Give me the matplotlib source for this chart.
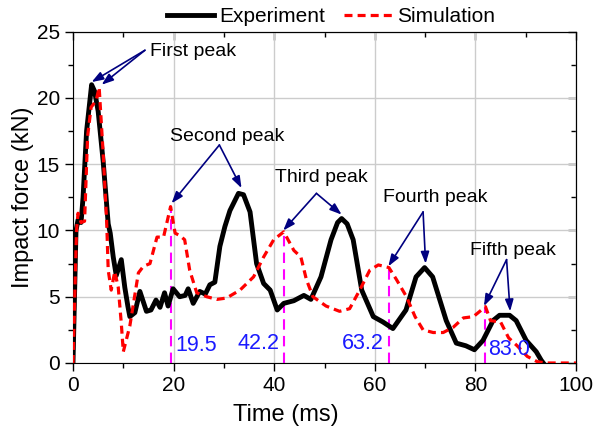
import numpy as np
import matplotlib
matplotlib.use('Agg')
import matplotlib.pyplot as plt
from matplotlib.ticker import MultipleLocator

plt.rcParams['font.family'] = ['Liberation Sans', 'DejaVu Sans']

# experiment curve (time in ms, force in kN)
exp_t = [0, 0.6, 1.0, 1.6, 2.0, 2.7, 3.7, 4.3, 5.0, 6.0,
         7.0, 7.4, 8.0, 8.6, 9.6, 10.3, 10.9, 11.3, 12.3, 13.3,
         14.6, 15.5, 16.5, 17.3, 18.2, 18.9, 19.9, 21.2, 22.3, 22.9,
         23.9, 25.2, 26.3, 27.2, 28.2, 29.2, 30.2, 31.2, 32.9, 33.9,
         35.2, 36.5, 37.9, 39.2, 40.6, 41.9, 43.9, 45.9, 47.3, 49.3,
         51.3, 52.6, 53.4, 54.5, 55.7, 57.4, 59.7, 61.6, 63.6, 66.2,
         68.2, 69.9, 71.5, 74.2, 76.2, 78.1, 79.8, 81.5, 83.5, 84.8,
         86.8, 88.1, 90.1, 92.1, 93.1, 93.5]
exp_f = [0, 10.0, 10.8, 10.6, 12.5, 17.5, 21.0, 20.5, 19.0, 15.2,
         10.5, 9.8, 8.0, 6.6, 7.8, 5.7, 4.3, 3.5, 3.8, 5.4,
         3.9, 4.0, 4.75, 4.2, 5.3, 4.3, 5.6, 5.0, 5.1, 5.6,
         4.5, 5.4, 5.2, 5.9, 6.1, 8.8, 10.3, 11.5, 12.8, 12.7,
         11.4, 7.5, 6.0, 5.5, 4.0, 4.5, 4.7, 5.1, 4.8, 6.5,
         9.3, 10.6, 10.9, 10.5, 9.3, 5.5, 3.5, 3.1, 2.6, 4.0,
         6.5, 7.2, 6.5, 3.2, 1.5, 1.3, 1.0, 1.7, 3.2, 3.6,
         3.6, 3.2, 1.7, 0.85, 0.2, 0.0]

# simulation curve
sim_t = [0, 0.7, 1.0, 1.6, 2.3, 2.9, 3.6, 4.6, 5.2, 6.0,
         6.7, 7.0, 7.6, 8.3, 9.0, 9.6, 10.0, 11.3, 13.0, 14.0,
         15.3, 16.7, 18.0, 19.4, 20.3, 21.3, 22.2, 23.2, 24.6, 26.6,
         28.6, 30.5, 33.2, 35.9, 37.9, 39.9, 41.9, 43.9, 45.3, 46.4,
         47.7, 50.3, 53.0, 55.0, 57.0, 59.0, 60.7, 62.8, 64.3, 66.3,
         68.0, 69.6, 71.6, 73.6, 75.6, 77.6, 79.6, 82.0, 83.0, 85.0,
         86.6, 88.3, 90.3, 92.3, 94.0, 100]
sim_f = [0, 10.0, 11.3, 10.6, 10.7, 17.1, 19.3, 19.8, 20.8, 15.8,
         10.6, 7.0, 5.5, 6.9, 5.7, 3.0, 0.85, 2.8, 6.8, 7.3,
         7.5, 9.5, 9.5, 11.8, 9.8, 9.6, 9.3, 7.0, 5.3, 5.0,
         4.8, 4.9, 5.5, 6.5, 8.0, 9.3, 9.9, 8.5, 8.0, 6.3,
         5.0, 4.3, 3.9, 4.1, 5.5, 7.0, 7.4, 7.2, 6.3, 5.0,
         3.5, 2.5, 2.3, 2.3, 2.7, 3.4, 3.5, 4.25, 3.2, 3.1,
         1.9, 1.3, 0.5, 0.1, 0, 0]

# simulated peak times (marker lines) and their labels
mark_t = [19.4, 41.9, 62.8, 82.0]
mark_f = [11.8, 9.9, 7.2, 4.25]
mark_labels = ['19.5', '42.2', '63.2', '83.0']

peak_names = ['First peak', 'Second peak', 'Third peak', 'Fourth peak', 'Fifth peak']

fig = plt.figure(figsize=(5.93, 4.32), dpi=100)
ax = fig.add_axes([73/593, 1-363/432, 503/593, 331.3/432])

ax.grid(True, color='#cccccc', lw=1, zorder=0)
ax.set_axisbelow(True)

for t, f in zip(mark_t, mark_f):
    ax.plot([t, t], [0, f], color='#ff00ff', lw=1.5, dashes=(5, 3), zorder=2)

ax.plot(exp_t, exp_f, color='black', lw=3.5, label='Experiment', zorder=3,
        solid_joinstyle='round')
ax.plot(sim_t, sim_f, color='red', lw=2.3, dashes=(2.5, 1.6), label='Simulation', zorder=4)

# number labels next to the marker lines
num_pos = [(20.3, 1.35, 'left'), (41.0, 1.5, 'right'), (61.8, 1.45, 'right'), (82.5, 1.05, 'left')]
for (x, y, ha), s in zip(num_pos, mark_labels):
    ax.text(x, y, s, color='#1a1aff', fontsize=15.5, ha=ha, va='center', zorder=5)

# peak annotations: text position, arrow origin, arrow heads
ann = [
    ((15.3, 23.5), (14.3, 23.6), [(3.7, 21.2), (5.7, 21.0)]),
    ((19.3, 17.1), (29.1, 16.45), [(19.6, 12.05), (33.5, 13.2)]),
    ((40.2, 14.0), (48.4, 12.8), [(41.8, 10.0), (53.4, 11.2)]),
    ((61.6, 12.5), (69.6, 11.4), [(62.7, 7.3), (70.1, 7.5)]),
    ((78.9, 8.5), (86.2, 7.8), [(81.7, 4.3), (86.9, 3.9)]),
]
navy = '#000080'
for name, (tpos, origin, heads) in zip(peak_names, ann):
    ax.text(tpos[0], tpos[1], name, fontsize=14, ha='left', va='center', zorder=6)
    for h in heads:
        ax.annotate('', xy=h, xytext=origin,
                    arrowprops=dict(arrowstyle='-|>,head_length=0.7,head_width=0.25',
                                    color=navy, lw=1.2, shrinkA=0, shrinkB=0),
                    zorder=6)

ax.set_xlim(0, 100)
ax.set_ylim(0, 25)
ax.xaxis.set_major_locator(MultipleLocator(20))
ax.xaxis.set_minor_locator(MultipleLocator(10))
ax.yaxis.set_major_locator(MultipleLocator(5))
ax.yaxis.set_minor_locator(MultipleLocator(2.5))
ax.tick_params(which='both', direction='out', labelsize=15, top=False, right=False)
ax.tick_params(which='major', length=6, width=1)
ax.tick_params(which='minor', length=3.5, width=1)

# mirrored ticks pointing inward on top and right
secx = ax.secondary_xaxis('top')
secx.xaxis.set_major_locator(MultipleLocator(20))
secx.xaxis.set_minor_locator(MultipleLocator(10))
secx.tick_params(which='both', direction='in', labeltop=False, width=1)
secx.tick_params(which='major', length=6)
secx.tick_params(which='minor', length=3.5)
secy = ax.secondary_yaxis('right')
secy.yaxis.set_major_locator(MultipleLocator(5))
secy.yaxis.set_minor_locator(MultipleLocator(2.5))
secy.tick_params(which='both', direction='in', labelright=False, width=1)
secy.tick_params(which='major', length=6)
secy.tick_params(which='minor', length=3.5)

ax.set_xlabel('Time (ms)', fontsize=17, labelpad=6)
ax.xaxis.label.set_x(0.423)
ax.set_ylabel('Impact force (kN)', fontsize=17, labelpad=1.5)

fig.legend(loc='center', bbox_to_anchor=(331/593, 1-17/432), ncol=2, frameon=False,
           fontsize=15, handlelength=2.3, handletextpad=0.25, columnspacing=0.9)

fig.savefig('out.png', dpi=100)
